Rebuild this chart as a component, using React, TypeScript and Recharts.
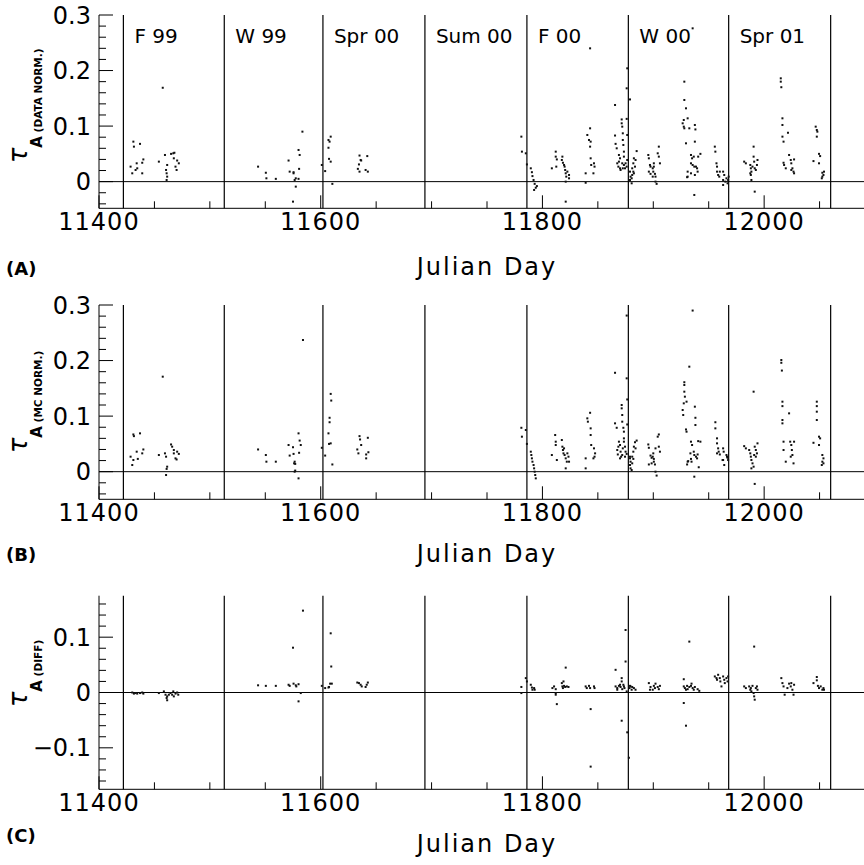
import React from 'react';
import { ScatterChart, Scatter, XAxis, YAxis, ReferenceLine } from 'recharts';

// ---------- data ----------
const seasonBounds = [11422, 11513, 11602, 11694, 11786, 11877.5, 11968, 12060];
const seasonNames = ['F 99', 'W 99', 'Spr 00', 'Sum 00', 'F 00', 'W 00', 'Spr 01'];

const dayTicks = [11400, 11450, 11500, 11550, 11600, 11650, 11700, 11750, 11800, 11850, 11900, 11950, 12000, 12050];
const dayLabels = [11400, 11600, 11800, 12000];

const tauTicksNorm = [-0.04, -0.02, 0, 0.02, 0.04, 0.06, 0.08, 0.1, 0.12, 0.14, 0.16, 0.18, 0.2, 0.22, 0.24, 0.26, 0.28, 0.3];
const tauLabelsNorm = [0, 0.1, 0.2, 0.3];
const tauTicksDiff = [-0.16, -0.14, -0.12, -0.1, -0.08, -0.06, -0.04, -0.02, 0, 0.02, 0.04, 0.06, 0.08, 0.1, 0.12, 0.14, 0.16];
const tauLabelsDiff = [-0.1, 0, 0.1];

// (A) tau_A, data normalised: [Julian day, tau]
const tauDataNorm: [number, number][] = [
  [11431,0.072],[11431.5,0.063],[11437,0.068],[11428.5,0.027],[11430,0.015],[11434,0.033],[11434.5,0.024],[11439,0.034],[11440,0.040],[11439,0.015],[11433,0.021],
  [11457.5,0.169],
  [11454,0.036],[11459.5,0.048],[11460.5,0.021],[11461,0.015],[11461.5,0.009],[11461,0.003],[11461.5,0.030],[11465,0.050],[11467,0.051],[11467.5,0.042],[11469,0.027],[11470,0.021],[11472,0.033],[11470.5,0.038],[11468,0.052],
  [11543.5,0.027],[11550.5,0.016],[11551,0.006],[11559.5,0.005],[11571,0.038],[11572,0.018],[11575.5,0.015],[11576.5,0.003],[11577.5,-0.009],[11580,0.057],[11575,-0.036],[11583.5,0.090],[11581,0.048],[11575.5,0.017],[11577.5,0.006],[11580,0.005],[11580.5,0.023],
  [11601,0.030],[11604,0.019],[11607,0.075],[11609,0.081],[11608,0.072],[11607,0.061],[11607.5,0.041],[11609,0.036],[11610.5,-0.004],
  [11635,0.047],[11636,0.039],[11634.5,0.031],[11633.5,0.023],[11635,0.018],[11640.5,0.021],[11642.5,0.018],[11642,0.046],[11636.5,0.038],
  [11781,0.081],[11781.5,0.054],[11785,0.051],[11786,0.031],[11789.5,0.024],[11790.5,0.017],[11791,0.010],[11792,0.003],[11793,-0.004],[11794,-0.011],[11792.5,-0.015],[11795,-0.008],
  [11812,0.054],[11812,0.045],[11813,0.040],[11808.5,0.024],[11812.5,0.027],[11818,0.045],[11817.5,0.039],[11818.5,0.034],[11819.5,0.030],[11820,0.027],[11820.5,0.021],[11821,0.015],[11821.5,0.009],[11822.5,0.018],[11824,0.012],[11824,0.006],[11821,0.000],[11821,-0.036],
  [11839,0.015],[11839,-0.002],[11840.5,0.084],[11842,0.075],[11843,0.063],[11843.5,0.072],[11843,0.096],[11843.5,0.042],[11844,0.030],[11846.5,0.033],[11847,0.027],[11846,0.015],[11843,0.240],
  [11865.5,0.138],[11871.5,0.112],[11871.5,0.105],[11872,0.099],[11865.5,0.083],[11872.5,0.087],[11872.5,0.075],[11873,0.066],[11866,0.068],[11867,0.060],[11873.5,0.054],[11873.5,0.045],[11869,0.048],[11870,0.042],[11869,0.036],[11867.5,0.033],[11868.5,0.027],[11870,0.024],[11870.5,0.021],[11872,0.033],[11873.5,0.030],[11875,0.033],[11876,0.027],[11876.5,0.039],[11874.5,0.024],[11872.5,0.024],[11876,0.168],[11876.5,0.204],[11879,0.148],[11876.5,0.084],[11876,0.113],
  [11879,0.018],[11879.5,0.009],[11879,0.003],[11880.5,-0.003],[11881,0.024],[11882,0.033],[11882.5,0.042],[11882,0.018],[11884,0.039],[11883.5,0.027],[11885,0.055],[11882.5,0.015],[11881,0.012],[11880.5,0.006],
  [11895.5,0.048],[11896,0.042],[11897,0.030],[11897.5,0.027],[11899.5,0.024],[11900.5,0.027],[11900,0.018],[11901.5,0.014],[11902,0.009],[11902,0.000],[11903,-0.004],[11896,0.018],[11897.5,0.014],[11900.5,0.033],[11904,0.051],[11905,0.063],[11905,0.045],[11906,0.033],[11899.5,0.009],
  [11928,0.180],[11928,0.147],[11929.5,0.132],[11927.5,0.111],[11926.5,0.105],[11927.5,0.099],[11928,0.096],[11931,0.114],[11929.5,0.069],[11932.5,0.096],[11937.5,0.102],[11938,0.094],[11937.5,0.072],[11934,0.048],[11935,0.042],[11934,0.033],[11936.5,0.045],[11935.5,0.030],[11937,0.027],[11938.5,0.027],[11939.5,0.024],[11940,0.018],[11940.5,0.045],[11942.5,0.050],[11937.5,0.012],[11931,0.018],[11931,0.009],[11934,0.015],[11930.5,0.008],[11937,-0.024],[11935.5,0.276],
  [11955.5,0.063],[11956,0.054],[11957,0.033],[11957.5,0.027],[11957.5,0.018],[11958.5,0.012],[11959.5,0.009],[11960,0.018],[11963,0.018],[11964,0.012],[11963,0.003],[11965,0.000],[11966,0.006],[11967,-0.003],[11967.5,0.003],[11968,0.009],[11963,-0.006],
  [11982,0.036],[11983.5,0.033],[11987.5,0.030],[11988,0.024],[11988.5,0.018],[11988,0.012],[11988.5,0.003],[11989.5,0.027],[11990.5,0.045],[11991,0.036],[11991.5,0.024],[11992.5,0.021],[11993.5,0.030],[11994,0.039],[11990.5,0.063],[11991.5,-0.018],[11987.5,0.015],
  [12015,0.186],[12015,0.180],[12015.5,0.170],[12016.5,0.114],[12016.5,0.102],[12016.5,0.081],[12017.5,0.072],[12021.5,0.088],[12017.5,0.034],[12018,0.030],[12019.5,0.024],[12022.5,0.048],[12024,0.039],[12024.5,0.033],[12025.5,0.024],[12026.5,0.018],[12027,0.015],[12027,0.040],[12024.5,0.021],
  [12044.5,0.037],[12046.5,0.099],[12047.5,0.093],[12048,0.090],[12047.5,0.081],[12049.5,0.050],[12050.5,0.046],[12049.5,0.033],[12052.5,0.016],[12053.5,0.012],[12052.5,0.009],[12052,0.006],[12054,0.018],
];

// (B) tau_A, MC normalised
const tauMcNorm: [number, number][] = [
  [11431,0.067],[11431.5,0.064],[11437,0.069],[11428.5,0.027],[11430,0.012],[11434,0.036],[11435,0.023],[11439,0.033],[11440,0.040],[11431,0.021],
  [11457.5,0.171],
  [11454,0.030],[11459.5,0.033],[11460.5,0.027],[11461.5,0.009],[11461,0.005],[11460.5,-0.006],[11465,0.049],[11466,0.045],[11467.5,0.039],[11469,0.024],[11470,0.022],[11472,0.032],[11470.5,0.036],[11467.5,0.033],
  [11543.5,0.040],[11550.5,0.030],[11551,0.018],[11559.5,0.018],[11571,0.048],[11572,0.029],[11576,0.015],[11576.5,0.000],[11580,0.069],[11580,-0.012],[11584,0.237],[11575,0.044],[11581,0.056],[11582,0.048],[11575.5,0.032],[11576.5,0.018],[11577,0.014],[11580.5,0.034],[11577,0.002],
  [11601,0.043],[11604,0.029],[11609,0.140],[11609.5,0.128],[11608,0.097],[11608,0.089],[11607,0.069],[11607.5,0.050],[11609,0.051],[11610.5,0.013],
  [11635,0.064],[11635.5,0.058],[11636.5,0.048],[11633,0.040],[11634,0.033],[11642.5,0.061],[11643,0.035],[11641,0.031],[11641,0.024],
  [11781,0.079],[11785,0.075],[11781.5,0.063],[11786,0.050],[11789.5,0.036],[11790,0.030],[11790.5,0.024],[11791,0.018],[11792,0.012],[11792.5,0.006],[11793,0.000],[11793.5,-0.006],[11794,-0.012],
  [11811.5,0.066],[11812,0.054],[11812,0.048],[11808.5,0.030],[11813,0.021],[11817.5,0.057],[11818,0.045],[11818.5,0.039],[11819,0.033],[11820,0.030],[11821,0.024],[11821,0.006],[11822.5,0.033],[11823.5,0.027],[11824,0.018],[11822,0.018],[11819.5,0.042],
  [11839,0.024],[11839,0.006],[11840.5,0.096],[11841,0.090],[11843.5,0.078],[11843.5,0.066],[11843,0.106],[11844,0.048],[11846.5,0.042],[11847.5,0.033],[11846,0.024],[11847,0.027],
  [11865.5,0.178],[11876,0.281],[11876,0.168],[11876.5,0.130],[11871.5,0.120],[11871.5,0.114],[11872,0.102],[11865.5,0.087],[11867,0.079],[11872,0.090],[11873,0.079],[11873.5,0.072],[11876.5,0.085],[11873.5,0.060],[11873.5,0.054],[11869,0.054],[11870,0.048],[11868.5,0.045],[11867.5,0.039],[11868,0.031],[11870.5,0.036],[11871,0.027],[11872.5,0.042],[11874.5,0.045],[11875,0.036],[11876,0.032],[11874.5,0.027],[11872,0.030],[11870,0.024],
  [11879,0.024],[11879.5,0.018],[11879,0.012],[11879.5,0.006],[11880.5,0.003],[11881,0.027],[11882,0.036],[11882.5,0.045],[11883.5,0.053],[11884,0.042],[11885,0.056],[11882,0.023],[11881,0.015],[11879,0.027],
  [11895.5,0.049],[11896,0.043],[11897.5,0.029],[11898.5,0.025],[11899.5,0.027],[11900,0.033],[11900.5,0.018],[11901.5,0.013],[11902,0.000],[11903,-0.007],[11896,0.013],[11900.5,0.023],[11904,0.063],[11905,0.067],[11905,0.045],[11906,0.036],[11902,0.042],[11898.5,0.015],
  [11935.5,0.290],[11932.5,0.189],[11928,0.161],[11928,0.156],[11928,0.144],[11928.5,0.135],[11930,0.126],[11927.5,0.123],[11926.5,0.111],[11927,0.102],[11929.5,0.076],[11930,0.072],[11937.5,0.117],[11938,0.097],[11938,0.084],[11934,0.054],[11935,0.048],[11933.5,0.033],[11936.5,0.036],[11937,0.030],[11938.5,0.027],[11939.5,0.024],[11940.5,0.055],[11942.5,0.054],[11940,0.031],[11931,0.018],[11931.5,0.019],[11934,0.023],[11934.5,0.018],[11930.5,0.013],[11941,0.008],[11937,-0.009],
  [11956,0.089],[11956,0.078],[11957.5,0.060],[11957.5,0.051],[11958.5,0.042],[11959,0.036],[11957.5,0.033],[11963,0.042],[11963.5,0.036],[11963,0.021],[11964,0.012],[11966,0.030],[11967,0.025],[11967.5,0.021],[11966.5,0.027],[11960,0.031],[11962.5,0.021],
  [11982,0.046],[11983.5,0.042],[11986.5,0.039],[11987.5,0.033],[11988,0.027],[11988.5,0.021],[11989.5,0.015],[11990.5,0.009],[11991.5,0.045],[11992.5,0.039],[11993.5,0.033],[11992.5,0.027],[11991,0.030],[11994,0.051],[11990.5,0.144],[11991.5,-0.022],[11988.5,0.006],
  [12015.5,0.201],[12015.5,0.196],[12016,0.182],[12016.5,0.126],[12016.5,0.118],[12016.5,0.093],[12016.5,0.087],[12022.5,0.105],[12017.5,0.054],[12017.5,0.039],[12019.5,0.018],[12023.5,0.054],[12024.5,0.048],[12025,0.039],[12025.5,0.030],[12026.5,0.015],[12027,0.054],[12024,0.027],
  [12047.5,0.126],[12047.5,0.118],[12047.5,0.108],[12047.5,0.093],[12044.5,0.052],[12049.5,0.063],[12050.5,0.060],[12049.5,0.048],[12052.5,0.030],[12053.5,0.024],[12052.5,0.018],[12052,0.012],[12053.5,0.015],
];

// (C) difference
const tauDiff: [number, number][] = [
  [11430,0.000],[11431.5,-0.002],[11433,-0.001],[11434.5,-0.002],[11437,-0.001],[11439,0.000],[11440,-0.002],
  [11454,-0.001],[11458.5,0.002],[11460,-0.004],[11461,-0.010],[11461.5,-0.014],[11463,-0.004],[11464.5,-0.001],[11466,-0.004],[11467,0.002],[11467.5,-0.007],[11469,-0.002],[11470.5,0.000],[11471.5,-0.004],[11461.5,-0.007],
  [11543.5,0.013],[11550.5,0.012],[11559.5,0.012],[11571,0.014],[11572,0.012],[11575.5,0.016],[11577.5,0.013],[11580,0.015],[11575,0.081],[11580,-0.016],[11584,0.148],[11582,-0.001],[11578,0.011],
  [11601,0.012],[11604,0.008],[11607,0.009],[11608.5,0.016],[11610,0.016],[11609,0.107],[11609.5,0.047],[11607.5,0.010],
  [11633,0.018],[11634.5,0.017],[11636,0.014],[11637,0.011],[11640.5,0.010],[11641.5,0.014],[11642.5,0.018],
  [11781,0.010],[11785,0.026],[11786,0.020],[11781,-0.001],[11789.5,0.014],[11790.5,0.009],[11791,0.005],[11792.5,0.008],[11793,0.005],
  [11809,0.008],[11810.5,0.011],[11812,0.006],[11812,-0.001],[11813,-0.021],[11817.5,0.017],[11818,0.011],[11818.5,0.008],[11819.5,0.012],[11820.5,0.010],[11821,0.045],[11822,0.011],[11823.5,0.010],[11812,-0.004],[11819,0.020],
  [11839,0.011],[11840,0.008],[11842,0.012],[11843,0.008],[11846.5,0.011],[11847,0.008],[11843.5,-0.030],[11843.5,-0.134],
  [11866,0.041],[11871.5,0.026],[11871.5,0.020],[11866,0.011],[11867.5,0.008],[11869,0.012],[11870.5,0.010],[11872,0.006],[11873.5,0.011],[11874,0.008],[11875,0.056],[11875,0.113],[11876,0.002],[11871.5,-0.051],[11876.5,-0.072],[11878,-0.118],[11867.5,0.005],[11870,0.014],[11873,0.014],
  [11878.5,0.008],[11879.5,0.011],[11881,0.010],[11882.5,0.008],[11884,0.005],[11880.5,0.005],[11879,0.012],
  [11896,0.017],[11897.5,0.010],[11899.5,0.005],[11900.5,0.012],[11901.5,0.008],[11902,0.016],[11904,0.010],[11905,0.006],[11906,0.012],[11897,0.005],
  [11927.5,0.024],[11927.5,-0.019],[11929.5,-0.060],[11932.5,0.092],[11927.5,0.011],[11928.5,0.008],[11930.5,0.012],[11931,0.006],[11932.5,0.010],[11934,0.012],[11935.5,0.008],[11936.5,0.005],[11937.5,0.010],[11940,0.006],[11941.5,0.003],[11929.5,0.005],[11934.5,0.016],
  [11955.5,0.029],[11957,0.026],[11957.5,0.023],[11960,0.026],[11960.5,0.020],[11961.5,0.011],[11963,0.029],[11964,0.023],[11964.5,0.017],[11966,0.026],[11967,0.020],[11967.5,0.029],[11958.5,0.032],
  [11982,0.011],[11983.5,0.008],[11986.5,0.011],[11987.5,0.005],[11988,0.008],[11989.5,0.012],[11990.5,-0.001],[11991,-0.007],[11991.5,-0.013],[11992.5,0.008],[11993.5,0.011],[11994,0.005],[11991,0.083],[11988.5,0.002],
  [12015.5,0.026],[12016.5,0.017],[12017.5,0.011],[12018.5,-0.004],[12022.5,0.016],[12024,0.011],[12025.5,0.005],[12026.5,-0.004],[12027,0.014],[12024.5,0.017],[12021,0.008],
  [12044.5,0.017],[12047.5,0.028],[12047.5,0.022],[12048.5,0.012],[12049.5,0.008],[12051,0.011],[12052.5,0.005],[12053.5,0.008],[12054,0.005],
];

// ---------- rendering ----------
const FONT = 'DejaVu Sans, Verdana, sans-serif';
const INK = '#000';

const isIn = (list: number[], v: number) => list.some((l) => Math.abs(l - v) < 1e-9);
const fmtTau = (v: number) => {
  if (Math.abs(v) < 1e-9) return '0';
  return (v < 0 ? '\u2212' : '') + Math.abs(v).toFixed(1);
};

const makeXTick = (labels: number[]) => (props: any) => {
  const { x, y, payload } = props;
  const v = payload.value;
  const major = v % 200 === 0;
  return (
    <g>
      <line x1={x} y1={y} x2={x} y2={y - (major ? 13 : 7)} stroke={INK} strokeWidth={1} />
      {isIn(labels, v) && (
        <text x={x} y={y + 21.5} textAnchor="middle" fontFamily={FONT} fontSize={24} letterSpacing={1} fill={INK}>
          {v}
        </text>
      )}
    </g>
  );
};

const makeYTick = (labels: number[]) => (props: any) => {
  const { x, y, payload } = props;
  const v = payload.value;
  const major = isIn(labels, v);
  return (
    <g>
      <line x1={x} y1={y} x2={x + (major ? 14 : 7)} y2={y} stroke={INK} strokeWidth={1} />
      {major && (
        <text x={x - 8} y={y + 8.5} textAnchor="end" fontFamily={FONT} fontSize={24} fill={INK}>
          {fmtTau(v)}
        </text>
      )}
    </g>
  );
};

const Dot = (props: any) => {
  const { cx, cy } = props;
  if (cx == null || cy == null) return null;
  return <rect x={cx - 1} y={cy - 1} width={2} height={2} fill="#111" />;
};

type PanelProps = {
  data: [number, number][];
  yDomain: [number, number];
  yTicks: number[];
  yLabels: number[];
  subText: string;
  letter: string;
  height: number;
  marginTop: number;
  xAxisHeight: number;
  yLabelOffset: number;
  jdBaseline: number;
  letterBaseline: number;
  showSeasons: boolean;
};

const Panel = (p: PanelProps) => {
  const pts = p.data.map(([d, t]) => ({ x: d, y: t }));
  const XTick = makeXTick(dayLabels);
  const YTick = makeYTick(p.yLabels);

  const xLabel = (lp: any) => {
    const vb = lp.viewBox;
    return (
      <g>
        <text x={vb.x + vb.width / 2} y={vb.y + p.jdBaseline} textAnchor="middle" fontFamily={FONT} fontSize={24} letterSpacing={2} fill={INK}>
          Julian Day
        </text>
        <text x={6} y={vb.y + p.letterBaseline} fontFamily={FONT} fontSize={18} fontWeight="bold" fill={INK}>
          {p.letter}
        </text>
      </g>
    );
  };

  const yLabel = (lp: any) => {
    const vb = lp.viewBox;
    const bx = 27;
    const by = vb.y + vb.height - p.yLabelOffset;
    return (
      <text transform={`translate(${bx},${by}) rotate(-90)`} x={0} y={0} fontFamily={FONT} fill={INK}>
        <tspan fontSize={26} fontStyle="italic">τ</tspan>
        <tspan fontSize={15} fontWeight="bold" dy={15}>A</tspan>
        <tspan fontSize={10.5} fontWeight="bold">{' ' + p.subText}</tspan>
      </text>
    );
  };

  const seasonLabel = (name: string) => (lp: any) => {
    const vb = lp.viewBox;
    return (
      <text x={vb.x + 11} y={vb.y + 28} fontFamily={FONT} fontSize={20} fill={INK}>
        {name}
      </text>
    );
  };

  return (
    <ScatterChart width={880} height={p.height} margin={{ top: p.marginTop, right: 5, bottom: 0, left: 0 }}>
      <XAxis
        xAxisId="top"
        orientation="top"
        type="number"
        dataKey="x"
        domain={[11400, 12100]}
        allowDataOverflow
        height={0}
        tick={false}
        tickLine={false}
        axisLine={{ stroke: INK, strokeWidth: 1 }}
      />
      <XAxis
        type="number"
        dataKey="x"
        domain={[11400, 12100]}
        allowDataOverflow
        ticks={dayTicks}
        interval={0}
        tickSize={0}
        tickMargin={0}
        tickLine={false}
        tick={XTick}
        height={p.xAxisHeight}
        axisLine={{ stroke: INK, strokeWidth: 1 }}
        label={xLabel}
      />
      <YAxis
        type="number"
        dataKey="y"
        domain={p.yDomain}
        allowDataOverflow
        ticks={p.yTicks}
        interval={0}
        tickSize={0}
        tickMargin={0}
        tickLine={false}
        tick={YTick}
        width={99}
        axisLine={{ stroke: INK, strokeWidth: 1 }}
        label={yLabel}
      />
      <ReferenceLine y={0} stroke={INK} strokeWidth={1} />
      {seasonBounds.map((b, i) => (
        <ReferenceLine
          key={b}
          x={b}
          stroke={INK}
          strokeWidth={1.2}
          label={p.showSeasons && i < seasonNames.length ? seasonLabel(seasonNames[i]) : undefined}
        />
      ))}
      <Scatter data={pts} shape={Dot} isAnimationActive={false} />
    </ScatterChart>
  );
};

export default function App() {
  return (
    <div style={{ position: 'fixed', left: 0, top: 0, width: 864, height: 865, overflow: 'hidden', background: '#fff' }}>
      <div style={{ position: 'absolute', left: 0, top: 0 }}>
        <Panel
          data={tauDataNorm}
          yDomain={[-0.048, 0.3]}
          yTicks={tauTicksNorm}
          yLabels={tauLabelsNorm}
          subText="(DATA NORM.)"
          letter="(A)"
          height={290}
          marginTop={15}
          xAxisHeight={81.7}
          yLabelOffset={45}
          jdBaseline={67}
          letterBaseline={67}
          showSeasons
        />
      </div>
      <div style={{ position: 'absolute', left: 0, top: 290 }}>
        <Panel
          data={tauMcNorm}
          yDomain={[-0.0497, 0.3]}
          yTicks={tauTicksNorm}
          yLabels={tauLabelsNorm}
          subText="(MC NORM.)"
          letter="(B)"
          height={290}
          marginTop={15}
          xAxisHeight={80.7}
          yLabelOffset={46}
          jdBaseline={63}
          letterBaseline={62}
          showSeasons={false}
        />
      </div>
      <div style={{ position: 'absolute', left: 0, top: 580 }}>
        <Panel
          data={tauDiff}
          yDomain={[-0.175, 0.175]}
          yTicks={tauTicksDiff}
          yLabels={tauLabelsDiff}
          subText="(DIFF)"
          letter="(C)"
          height={285}
          marginTop={15.7}
          xAxisHeight={75.7}
          yLabelOffset={82}
          jdBaseline={63}
          letterBaseline={53}
          showSeasons={false}
        />
      </div>
    </div>
  );
}
